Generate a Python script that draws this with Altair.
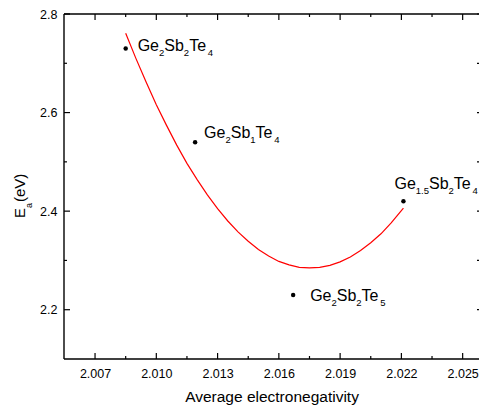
import altair as alt
import pandas as pd

# ---------------- data ----------------
electroneg = [2.0085, 2.0119, 2.0167, 2.0221]
ea = [2.73, 2.54, 2.23, 2.42]
label_main = [["Ge", "Sb", "Te"], ["Ge", "Sb", "Te"], ["Ge", "Sb", "Te"], ["Ge", "Sb", "Te"]]
label_sub = [["2", "2", "4"], ["2", "1", "4"], ["2", "2", "5"], ["1.5", "2", "4"]]
label_dx = [12, 9, 17, -9]
label_dy = [2, -4, 6, -12]

fit_x = [2.0085, 2.0090, 2.0095, 2.0100, 2.0105, 2.0110, 2.0115, 2.0120, 2.0125,
         2.0130, 2.0135, 2.0140, 2.0145, 2.0150, 2.0155, 2.0160, 2.0165, 2.0170,
         2.0175, 2.0180, 2.0185, 2.0190, 2.0195, 2.0200, 2.0205, 2.0210, 2.0215, 2.0221]
fit_y = [2.761, 2.710, 2.662, 2.616, 2.574, 2.534, 2.497, 2.464, 2.433,
         2.405, 2.380, 2.358, 2.339, 2.322, 2.309, 2.298, 2.291, 2.286,
         2.285, 2.286, 2.290, 2.297, 2.307, 2.320, 2.336, 2.354, 2.376, 2.406]

x_major = [2.007, 2.010, 2.013, 2.016, 2.019, 2.022, 2.025]
x_minor = [2.0085, 2.0115, 2.0145, 2.0175, 2.0205, 2.0235]
y_major = [2.2, 2.4, 2.6, 2.8]
y_minor = [2.3, 2.5, 2.7]

x_title = "Average electronegativity"

# ---------------- layout ----------------
W, H = 415, 345
X_DOM = [2.00548, 2.02580]
Y_DOM = [2.1, 2.8]
PXX = W / (X_DOM[1] - X_DOM[0])
PXY = H / (Y_DOM[1] - Y_DOM[0])
FONT = "Liberation Sans"
MAIN_FS, SUB_FS, SUB_DROP = 16, 9.5, 5
CHAR_W = {"G": 0.778, "e": 0.556, "S": 0.667, "b": 0.556, "T": 0.611,
          "1": 0.556, "2": 0.556, "4": 0.556, "5": 0.556, ".": 0.278}

xs = alt.Scale(domain=X_DOM, nice=False, zero=False)
ys = alt.Scale(domain=Y_DOM, nice=False, zero=False)
ax_x = alt.Axis(values=x_major, format=".3f", ticks=False, tickSize=0,
                domain=False, grid=False, labelPadding=8,
                title=x_title, titlePadding=10)
ax_y = alt.Axis(values=y_major, format=".1f", ticks=False, tickSize=0,
                domain=False, grid=False, labelPadding=7, title=None)

pts = pd.DataFrame({"x": electroneg, "y": ea})
fit = pd.DataFrame({"x": fit_x, "y": fit_y})

# label segments (main text + subscripts), pixel offsets converted to data units
rows = []
for i in range(len(electroneg)):
    off = label_dx[i]
    for m, s in zip(label_main[i], label_sub[i]):
        rows.append({"x": electroneg[i] + off / PXX, "y": ea[i] - label_dy[i] / PXY,
                     "t": m, "fs": MAIN_FS})
        off += sum(CHAR_W[c] for c in m) * MAIN_FS
        rows.append({"x": electroneg[i] + off / PXX,
                     "y": ea[i] - (label_dy[i] + SUB_DROP) / PXY,
                     "t": s, "fs": SUB_FS})
        off += sum(CHAR_W[c] for c in s) * SUB_FS
segs = pd.DataFrame(rows)

points = alt.Chart(pts).mark_circle(color="black", opacity=1, size=20).encode(
    x=alt.X("x:Q", scale=xs, axis=ax_x),
    y=alt.Y("y:Q", scale=ys, axis=ax_y),
)

curve = alt.Chart(fit).mark_line(color="#ff0000", strokeWidth=1.2).encode(
    x=alt.X("x:Q", scale=xs, axis=ax_x),
    y=alt.Y("y:Q", scale=ys, axis=ax_y),
)

labels = alt.Chart(segs).mark_text(align="left", baseline="alphabetic",
                                   font=FONT, color="black").encode(
    x=alt.X("x:Q", scale=xs, axis=ax_x),
    y=alt.Y("y:Q", scale=ys, axis=ax_y),
    size=alt.Size("fs:Q", scale=None, legend=None),
    text="t:N",
)

def hticks(vals, y0, y1):
    return alt.Chart(pd.DataFrame({"x": vals})).mark_rule(color="black", strokeWidth=1.2).encode(
        x=alt.X("x:Q", scale=xs, axis=ax_x), y=alt.value(y0), y2=alt.value(y1))

def vticks(vals, x0, x1):
    return alt.Chart(pd.DataFrame({"y": vals})).mark_rule(color="black", strokeWidth=1.2).encode(
        y=alt.Y("y:Q", scale=ys, axis=ax_y), x=alt.value(x0), x2=alt.value(x1))

ticks = [
    hticks(x_major, H, H - 6), hticks(x_minor, H, H - 3),
    hticks(x_major, 0, 6), hticks(x_minor, 0, 3),
    vticks(y_major, 0, 6), vticks(y_minor, 0, 3),
    vticks(y_major + y_minor, W, W - 2),
]

frame_df = pd.DataFrame({"k": [0]})
frame = [
    alt.Chart(frame_df).mark_rule(color="black", strokeWidth=1.4).encode(
        x=alt.value(0), x2=alt.value(W), y=alt.value(0)),
    alt.Chart(frame_df).mark_rule(color="black", strokeWidth=1.4).encode(
        x=alt.value(0), x2=alt.value(W), y=alt.value(H)),
    alt.Chart(frame_df).mark_rule(color="black", strokeWidth=1.4).encode(
        x=alt.value(0), y=alt.value(0), y2=alt.value(H)),
]

def ytitle(txt, fs, yv, xv):
    return alt.Chart(frame_df).mark_text(angle=270, align="left", baseline="alphabetic",
                                         font=FONT, fontSize=fs, color="black", text=txt).encode(
        x=alt.value(xv), y=alt.value(yv))

ytitles = [ytitle("E", 15, 204, -39), ytitle("a", 9, 194, -32), ytitle("(eV)", 15, 188, -39)]

chart = alt.layer(curve, points, labels, *ticks, *frame, *ytitles).properties(
    width=W, height=H,
    autosize=alt.AutoSizeParams(type="none"),
    padding={"left": 56, "top": 6, "right": 0, "bottom": 49},
).configure_view(stroke=None).configure_axis(
    labelFont=FONT, labelFontSize=12.5, labelColor="black",
    titleFont=FONT, titleFontSize=15.5, titleFontWeight="normal", titleColor="black",
)

chart.save("out.html", embed_options={"renderer": "svg", "actions": False})
